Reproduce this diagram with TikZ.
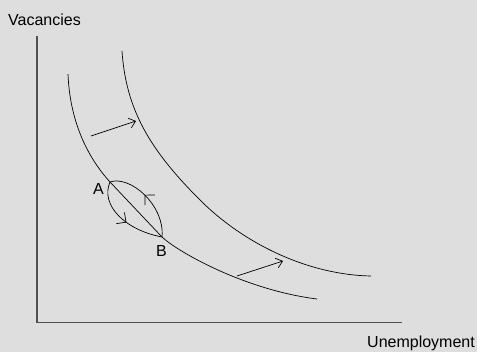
\documentclass[tikz,border=0pt]{standalone}
\usepackage{fontspec}
\setmainfont{Liberation Sans}
\usetikzlibrary{arrows.meta,decorations.markings}
\definecolor{bgGray}{HTML}{DEDEDE}
\definecolor{axisGray}{HTML}{505050}

\begin{document}
\begin{tikzpicture}[
    x=1pt, y=-1pt,
    axis/.style={draw=axisGray, line width=1.1pt},
    curve/.style={draw=black, line width=0.7pt},
    shiftarrow/.style={->, line width=0.7pt, >={Straight Barb[length=6pt, width=10pt]}},
    lensarc/.style={draw=black, line width=0.7pt, postaction={decorate},
      decoration={markings, mark=at position #1 with {\arrow[line width=0.7pt]{Straight Barb[length=7pt, width=14pt]}}}},
    lbl/.style={font=\fontsize{16}{19}\selectfont, inner sep=0pt, anchor=base west}
]
  % Background and frame
  \fill[bgGray] (0,0) rectangle (477,352);
  \useasboundingbox (0,0) rectangle (477,352);

  % Axes
  \coordinate (origin) at (37,322.5);
  \coordinate (ytop) at (37,36);
  \coordinate (xend) at (402,322.5);
  \draw[axis] (ytop) -- (origin) -- (xend);
  \node[lbl] (vac) at (8,26) {Vacancies};
  \node[lbl] (unemp) at (367,347.5) {Unemployment};

  % Curves
  \coordinate (ptA) at (110,182);
  \coordinate (ptB) at (162,237);
  \draw[curve] (68,74) .. controls (70,125) and (90,160) .. (ptA) -- (ptB)
    .. controls (178,252) and (245,290) .. (317,299);
  \draw[curve] (122,51) .. controls (126,110) and (150,150) .. (200,200)
    .. controls (245,245) and (310,275) .. (371,276);

  % Loop between A and B
  \draw[lensarc=0.55] (ptB) .. controls (165,205) and (130,175) .. (ptA);
  \draw[lensarc=0.55] (ptA) .. controls (100,205) and (125,230) .. (ptB);
  \node[lbl] (labA) at (93,195) {A};
  \node[lbl] (labB) at (156,256.5) {B};

  % Shift arrows
  \coordinate (s1a) at (91,136);
  \coordinate (s1b) at (136,121);
  \coordinate (s2a) at (237,276);
  \coordinate (s2b) at (283,261);
  \draw[shiftarrow] (s1a) -- (s1b);
  \draw[shiftarrow] (s2a) -- (s2b);
\end{tikzpicture}
\end{document}
